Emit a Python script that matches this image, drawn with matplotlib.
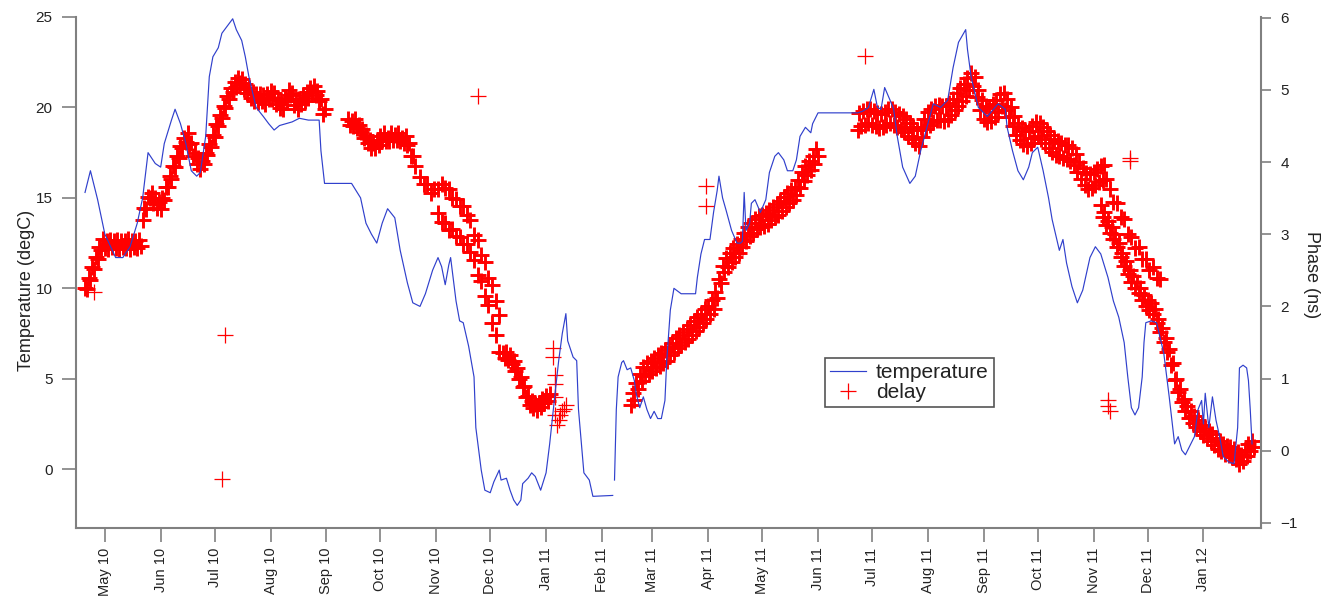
import numpy as np
import pandas as pd
import matplotlib
matplotlib.use("Agg")
import matplotlib.pyplot as plt
import matplotlib.dates as mdates

plt.rcParams['font.family'] = ['Liberation Sans', 'DejaVu Sans']

# ---------------------------------------------------------------- temperature
temp_dates = [
    "2010-04-20", "2010-04-23", "2010-04-27", "2010-05-01", "2010-05-07", "2010-05-11", "2010-05-15", "2010-05-19", "2010-05-22", "2010-05-25", "2010-05-29",
    "2010-06-01", "2010-06-03", "2010-06-07", "2010-06-09", "2010-06-12", "2010-06-15", "2010-06-18", "2010-06-21", "2010-06-23", "2010-06-26", "2010-06-28", "2010-06-30",
    "2010-07-03", "2010-07-05", "2010-07-08", "2010-07-11", "2010-07-13", "2010-07-16", "2010-07-18", "2010-07-20", "2010-07-24", "2010-07-28", "2010-07-31",
    "2010-08-03", "2010-08-06", "2010-08-13", "2010-08-17", "2010-08-22", "2010-08-28", "2010-08-29", "2010-08-31",
    "2010-09-15", "2010-09-20", "2010-09-23", "2010-09-26", "2010-09-29",
    "2010-10-02", "2010-10-05", "2010-10-09", "2010-10-12", "2010-10-16", "2010-10-19", "2010-10-23", "2010-10-26", "2010-10-30",
    "2010-11-02", "2010-11-04", "2010-11-06", "2010-11-08", "2010-11-09", "2010-11-12", "2010-11-14", "2010-11-16", "2010-11-19", "2010-11-22", "2010-11-23", "2010-11-26", "2010-11-28",
    "2010-12-01", "2010-12-03", "2010-12-06", "2010-12-07", "2010-12-10", "2010-12-12", "2010-12-14", "2010-12-16", "2010-12-18", "2010-12-19", "2010-12-22", "2010-12-24", "2010-12-26", "2010-12-29",
    "2011-01-01", "2011-01-03", "2011-01-06", "2011-01-08", "2011-01-10", "2011-01-12", "2011-01-13", "2011-01-16", "2011-01-18", "2011-01-19", "2011-01-22", "2011-01-25", "2011-01-27",
    "2011-02-07", "2011-02-07T12:00", "2011-02-08", "2011-02-09", "2011-02-10", "2011-02-12", "2011-02-13", "2011-02-15", "2011-02-17", "2011-02-19", "2011-02-20", "2011-02-22", "2011-02-24", "2011-02-26", "2011-02-28",
    "2011-03-02", "2011-03-04", "2011-03-06", "2011-03-08", "2011-03-09", "2011-03-11", "2011-03-13", "2011-03-17", "2011-03-25", "2011-03-26", "2011-03-28", "2011-03-30",
    "2011-04-02", "2011-04-04", "2011-04-06", "2011-04-07", "2011-04-09", "2011-04-11", "2011-04-14", "2011-04-17", "2011-04-19", "2011-04-20", "2011-04-21", "2011-04-22", "2011-04-24", "2011-04-25", "2011-04-27", "2011-04-30",
    "2011-05-03", "2011-05-05", "2011-05-08", "2011-05-10", "2011-05-13", "2011-05-15", "2011-05-18", "2011-05-20", "2011-05-22", "2011-05-25", "2011-05-28", "2011-05-29",
    "2011-06-01", "2011-06-23", "2011-06-26", "2011-06-29",
    "2011-07-02", "2011-07-04", "2011-07-06", "2011-07-08", "2011-07-11", "2011-07-13", "2011-07-15", "2011-07-18", "2011-07-22", "2011-07-25", "2011-07-28",
    "2011-08-01", "2011-08-04", "2011-08-08", "2011-08-12", "2011-08-15", "2011-08-18", "2011-08-22", "2011-08-23", "2011-08-25", "2011-08-29",
    "2011-09-03", "2011-09-09", "2011-09-13", "2011-09-14", "2011-09-17", "2011-09-20", "2011-09-23", "2011-09-26", "2011-09-28",
    "2011-10-01", "2011-10-04", "2011-10-07", "2011-10-09", "2011-10-13", "2011-10-15", "2011-10-17", "2011-10-20", "2011-10-23", "2011-10-26", "2011-10-30",
    "2011-11-02", "2011-11-05", "2011-11-09", "2011-11-12", "2011-11-15", "2011-11-18", "2011-11-20", "2011-11-22", "2011-11-24", "2011-11-26", "2011-11-28", "2011-11-29", "2011-11-30",
    "2011-12-03", "2011-12-06", "2011-12-10", "2011-12-13", "2011-12-15", "2011-12-16", "2011-12-18", "2011-12-20", "2011-12-22", "2011-12-25", "2011-12-27", "2011-12-29", "2011-12-31",
    "2012-01-01", "2012-01-02", "2012-01-04", "2012-01-06", "2012-01-08", "2012-01-10", "2012-01-12", "2012-01-15", "2012-01-18", "2012-01-20", "2012-01-21", "2012-01-23", "2012-01-25", "2012-01-26", "2012-01-27", "2012-01-28",
]
temp_values = [
    15.3, 16.5, 14.9, 13.0, 11.7, 11.7, 12.3, 13.6, 15.0, 17.5, 16.9,
    16.7, 18.0, 19.3, 19.9, 19.1, 18.0, 16.5, 16.2, 16.4, 18.4, 21.7, 22.8,
    23.3, 24.1, 24.5, 24.9, 24.3, 23.7, 22.8, 21.7, 20.0, 19.5, 19.1,
    18.75, 19.0, 19.2, 19.4, 19.3, 19.3, 17.6, 15.8,
    15.8, 15.0, 13.6, 13.0, 12.5,
    13.6, 14.4, 13.9, 12.1, 10.3, 9.2, 9.0, 9.7, 11.0,
    11.7, 11.2, 10.2, 11.3, 11.7, 9.3, 8.2, 8.1, 6.8, 5.1, 2.3, -0.05, -1.16,
    -1.3, -0.7, -0.05, -0.6, -0.5, -1.16, -1.7, -2.0, -1.7, -0.8, -0.5, -0.2, -0.4, -1.16,
    -0.2, 1.4, 4.2, 6.0, 7.5, 8.6, 7.1, 6.2, 6.0, 3.3, -0.2, -0.6, -1.5,
    -1.45, np.nan, -0.6, 3.3, 5.1, 5.9, 6.0, 5.5, 5.6, 4.9, 4.2, 3.4, 4.0, 3.3, 2.8,
    3.2, 2.8, 2.8, 3.8, 6.0, 8.8, 10.0, 9.7, 9.7, 10.6, 11.9, 12.7,
    12.7, 14.2, 15.4, 16.2, 15.0, 14.3, 13.2, 12.5, 12.5, 12.6, 15.3, 13.2, 13.6, 14.7, 14.9, 14.2,
    14.9, 16.4, 17.3, 17.5, 17.1, 16.5, 16.5, 17.1, 18.4, 18.9, 18.6, 19.1,
    19.7, 19.7, 19.8, 20.0,
    21.0, 20.0, 19.9, 21.1, 20.4, 19.9, 18.4, 16.7, 15.8, 16.2, 17.6,
    19.1, 20.2, 20.0, 20.4, 22.2, 23.6, 24.3, 23.2, 21.7, 20.0,
    19.5, 20.2, 19.9, 18.9, 17.6, 16.5, 16.0, 16.7, 17.5,
    17.8, 16.5, 15.0, 13.8, 12.1, 12.7, 11.4, 10.1, 9.2, 9.9, 11.7,
    12.3, 11.9, 10.6, 9.3, 8.4, 7.0, 5.1, 3.4, 3.0, 3.4, 5.1, 7.0, 8.1,
    8.2, 8.1, 6.4, 4.0, 2.3, 1.4, 1.8, 1.05, 0.8, 1.4, 1.8, 3.3, 3.8,
    2.5, 4.2, 2.3, 4.0, 2.7, 1.8, 0.7, 0.4, 0.3, 2.3, 5.6, 5.75, 5.6, 4.9, 3.3, 1.4,
]

# ---------------------------------------------------------------- delay (phase)
# Logged runs: each run has a first day and a sampling interval in days.
delay_spring_2010 = [  # daily from 2010-04-20
    2.26, 2.24, 2.40, 2.37, 2.55, 2.52, 2.69, 2.65, 2.82, 2.78, 2.93,
    2.81, 2.91, 2.80, 2.92, 2.82, 2.90, 2.81, 2.92, 2.80, 2.91, 2.82, 2.90, 2.81, 2.93, 2.80, 2.91, 2.82, 2.90, 2.81, 2.92, 2.84,
    3.20, 3.37, 3.35, 3.52, 3.50, 3.57, 3.43, 3.50, 3.37, 3.45,
    3.35, 3.50, 3.47, 3.66, 3.65, 3.81, 3.77, 3.95, 3.93, 4.09,
    4.05, 4.22, 4.19, 4.33, 4.28, 4.40, 4.25, 4.27, 4.09, 4.13,
    3.98, 4.05, 3.91, 4.02, 3.97, 4.13, 4.10, 4.25, 4.21, 4.38,
    4.35, 4.53, 4.50, 4.65, 4.61, 4.78, 4.75, 4.91, 4.87, 5.02,
    4.97, 5.11, 5.04, 5.17, 5.09, 5.15, 5.01, 5.08, 4.95, 5.02,
    4.89, 4.97, 4.85, 4.94, 4.83, 4.94, 4.85, 4.93, 4.81, 4.94, 4.87,
    4.98, 4.88, 4.95, 4.81, 4.88, 4.75, 4.84, 4.73, 4.89, 4.85,
    5.00, 4.93, 4.96, 4.79, 4.85, 4.73, 4.87, 4.81, 4.93, 4.85,
    4.97, 4.89, 5.03, 4.97, 5.06, 4.93, 4.99, 4.85, 4.87, 4.67, 4.73,
]
delay_autumn_2010 = [  # daily from 2010-09-13
    4.60, 4.51, 4.57, 4.50, 4.59, 4.47, 4.52, 4.41, 4.46, 4.34,
    4.38, 4.26, 4.31, 4.20, 4.26, 4.19, 4.29, 4.24,
    4.36, 4.30, 4.40, 4.29, 4.34, 4.29, 4.40, 4.31, 4.37, 4.31,
    4.40, 4.29, 4.34, 4.27, 4.36, 4.24, 4.26, 4.08, 4.09, 3.94,
]
delay_nov_2010_upper = [  # every 2 days from 2010-10-23
    3.79, 3.69, 3.69, 3.57, 3.63,
    3.62, 3.70, 3.64, 3.63, 3.50, 3.49, 3.39, 3.39, 3.27, 3.20, 2.99, 2.92, 2.71, 2.61, 2.39,
    2.30, 2.07, 1.88,
]
delay_nov_2010_lower = [  # every 2 days from 2010-11-02
    3.30, 3.17, 3.16, 3.06, 3.07, 2.97, 2.96, 2.86, 2.86, 2.75, 2.64, 2.44, 2.35, 2.15, 2.02,
    1.77, 1.60, 1.37,
]
delay_winter_2010 = [  # daily from 2010-12-08
    1.36, 1.29, 1.37, 1.26, 1.32, 1.20, 1.24, 1.11, 1.14, 1.00,
    1.02, 0.88, 0.90, 0.75, 0.76, 0.64, 0.69, 0.59, 0.65, 0.57,
    0.66, 0.61, 0.72, 0.66, 0.76, 0.69, 0.78,
]
delay_spring_2011 = [  # daily from 2011-02-17
    0.64, 0.80, 0.71, 0.94, 0.85, 1.07, 0.97, 1.16, 1.03, 1.21, 1.07, 1.25,
    1.10, 1.28, 1.14, 1.32, 1.18, 1.36, 1.21, 1.39, 1.25, 1.44,
    1.32, 1.50, 1.37, 1.56, 1.42, 1.60, 1.46, 1.65, 1.51, 1.69,
    1.55, 1.74, 1.61, 1.80, 1.66, 1.85, 1.72, 1.90, 1.77, 1.96, 1.82,
    2.01, 1.89, 2.09, 1.97, 2.20, 2.11, 2.38, 2.32, 2.56, 2.47,
    2.67, 2.54, 2.74, 2.62, 2.81, 2.68, 2.87, 2.74, 2.94, 2.82,
    3.02, 2.90, 3.10, 2.97, 3.16, 3.02, 3.21, 3.07, 3.25, 3.10,
    3.27, 3.12, 3.29, 3.14, 3.33, 3.20, 3.38, 3.24, 3.42, 3.27,
    3.46, 3.32, 3.51, 3.38, 3.57, 3.43, 3.61, 3.47, 3.66, 3.54,
    3.75, 3.64, 3.86, 3.74, 3.94, 3.82, 4.02, 3.89, 4.08, 3.97, 4.18,
    4.08,
]
delay_summer_2011 = [  # daily from 2011-06-23
    4.45, 4.68, 4.50, 4.71, 4.52, 4.73, 4.54, 4.73,
    4.52, 4.71, 4.50, 4.68, 4.47, 4.67, 4.48, 4.70, 4.52, 4.73,
    4.54, 4.73, 4.52, 4.70, 4.48, 4.67, 4.46, 4.64, 4.42, 4.59,
    4.36, 4.54, 4.32, 4.49, 4.26, 4.44, 4.22, 4.48, 4.35, 4.60, 4.46,
    4.69, 4.52, 4.74, 4.55, 4.77, 4.58, 4.79, 4.58, 4.77, 4.57,
    4.78, 4.59, 4.82, 4.65, 4.88, 4.72, 4.95, 4.78, 5.02, 4.85,
    5.08, 4.92, 5.16, 5.00, 5.23, 5.05, 5.18, 4.90, 5.00, 4.72, 4.86,
    4.60, 4.77, 4.55, 4.75, 4.57, 4.80, 4.63, 4.86, 4.70, 4.94,
    4.78, 4.95, 4.72, 4.87, 4.62, 4.76, 4.50, 4.64, 4.38, 4.54,
    4.30, 4.47, 4.25, 4.43, 4.22, 4.43, 4.26, 4.50, 4.33, 4.55,
    4.36, 4.54, 4.32, 4.49, 4.26, 4.43, 4.20, 4.37, 4.14, 4.32,
    4.10, 4.29, 4.08, 4.26, 4.05, 4.24, 4.04, 4.24, 4.02, 4.19,
    3.96, 4.11, 3.86, 4.00, 3.76, 3.92, 3.68, 3.85, 3.62, 3.83, 3.64,
    3.86, 3.68, 3.90, 3.72, 3.94, 3.75, 3.96, 3.76,
]
delay_nov_2011_upper = [  # every 2 days from 2011-11-10
    3.62, 3.44, 3.43, 3.24, 3.21, 3.01, 2.96, 2.81, 2.83, 2.66, 2.65, 2.51, 2.54, 2.40, 2.38,
]
delay_winter_2011 = [  # daily from 2011-11-05
    3.41, 3.24, 3.31, 3.13, 3.19, 3.02, 3.10, 2.93, 3.00, 2.82,
    2.88, 2.69, 2.74, 2.56, 2.63, 2.45, 2.51, 2.34, 2.42, 2.26,
    2.34, 2.18, 2.26, 2.09, 2.16, 2.00,
    2.09, 1.95, 2.05, 1.89, 1.96, 1.77, 1.82, 1.64, 1.70, 1.51,
    1.56, 1.37, 1.41, 1.19, 1.21, 0.98, 1.00, 0.81, 0.86, 0.67,
    0.72, 0.55, 0.62, 0.46, 0.55, 0.39, 0.48, 0.33, 0.42, 0.27, 0.36,
    0.22, 0.32, 0.18, 0.27, 0.13, 0.23, 0.08, 0.17, 0.03, 0.13,
    -0.01, 0.09, -0.04, 0.07, -0.06, 0.05, -0.08, 0.02, -0.12, -0.02,
    -0.18, -0.06, -0.14, 0.01, -0.07, 0.09, 0.00, 0.14, 0.05,
]
delay_runs = [delay_spring_2010, delay_autumn_2010, delay_nov_2010_upper, delay_nov_2010_lower,
              delay_winter_2010, delay_spring_2011, delay_summer_2011, delay_nov_2011_upper,
              delay_winter_2011]
delay_run_starts = ["2010-04-20", "2010-09-13", "2010-10-23", "2010-11-02",
                    "2010-12-08", "2011-02-17", "2011-06-23", "2011-11-10",
                    "2011-11-05"]
delay_run_steps = [1, 1, 2, 2, 1, 1, 1, 2, 1]

# isolated readings outside the runs
delay_extra_dates = [
    "2010-04-25", "2010-07-05", "2010-07-07", "2010-11-24",
    "2011-01-05", "2011-01-05", "2011-01-06", "2011-01-06", "2011-01-06", "2011-01-06",
    "2011-01-07", "2011-01-08", "2011-01-09", "2011-01-10", "2011-01-11", "2011-01-12",
    "2011-03-31", "2011-03-31", "2011-06-27",
    "2011-11-09", "2011-11-09", "2011-11-10", "2011-11-21", "2011-11-21",
]
delay_extra_values = [
    2.20, -0.39, 1.61, 4.92,
    1.42, 1.30, 1.05, 0.92, 0.75, 0.50,
    0.36, 0.42, 0.50, 0.55, 0.58, 0.64,
    3.67, 3.39, 5.47,
    0.70, 0.62, 0.55, 4.06, 4.02,
]

month_ticks = pd.date_range("2010-05-01", "2012-01-01", freq="MS")

# ---------------------------------------------------------------- assemble
t_x = pd.to_datetime(temp_dates, format="ISO8601")
t_y = np.asarray(temp_values, dtype=float)

run_x, run_y = [], []
for start, step, vals in zip(delay_run_starts, delay_run_steps, delay_runs):
    run_x.extend(pd.date_range(start, periods=len(vals), freq=f"{step}D"))
    run_y.extend(vals)
extra_x = pd.to_datetime(delay_extra_dates)

# ---------------------------------------------------------------- figure
GREY = "#808080"
TEXT = "#222222"
RED = "#ff0000"

fig = plt.figure(figsize=(13.22, 5.96), dpi=100)
ax = fig.add_axes([0.0575, 0.1141, 0.8964, 0.8574])
ax2 = ax.twinx()
ax.set_zorder(ax2.get_zorder() + 1)
ax.patch.set_visible(False)

ax2.plot(run_x, run_y, linestyle="none", marker="+", markersize=12,
         markeredgewidth=2.1, color=RED)
pts, = ax2.plot(extra_x, delay_extra_values, linestyle="none", marker="+",
                markersize=11, markeredgewidth=0.9, color=RED)
line, = ax.plot(t_x, t_y, color="#3040cc", linewidth=0.85)

ax.set_xlim(pd.Timestamp("2010-04-15"), pd.Timestamp("2012-02-02"))
ax.set_ylim(-3.25, 25.0)
ax2.set_ylim(-1.07, 6.01)
ax.set_yticks([0, 5, 10, 15, 20, 25])
ax2.set_yticks([-1, 0, 1, 2, 3, 4, 5, 6])

ax.set_xticks(month_ticks)
ax.xaxis.set_major_formatter(mdates.DateFormatter("%b %y"))
for lab in ax.get_xticklabels():
    lab.set_rotation(90)

for s in ("top", "right"):
    ax.spines[s].set_visible(False)
for s in ("top", "left", "bottom"):
    ax2.spines[s].set_visible(False)
for sp in (ax.spines["left"], ax.spines["bottom"], ax2.spines["right"]):
    sp.set_color(GREY)
    sp.set_linewidth(1.5)

ax.tick_params(axis="y", direction="out", length=10, width=1.2, color=GREY,
               labelsize=11, labelcolor=TEXT, pad=7)
ax.tick_params(axis="x", direction="out", length=10, width=1.2, color=GREY,
               labelsize=10.5, labelcolor=TEXT, pad=4)
ax2.tick_params(axis="y", direction="out", length=7, width=1.2, color=GREY,
                labelsize=11, labelcolor=TEXT, pad=7)

ax.set_ylabel("Temperature (degC)", fontsize=13, color=TEXT)
ax.yaxis.set_label_coords(-0.035, 0.464)
ax2.set_ylabel("Phase (ns)", fontsize=13, color=TEXT, rotation=270, va="bottom")
ax2.yaxis.set_label_coords(1.035, 0.495)

leg = ax.legend([line, pts], ["temperature", "delay"], loc="upper left",
                bbox_to_anchor=(0.632, 0.333), frameon=True, fancybox=False,
                edgecolor="#555555", framealpha=1, fontsize=15,
                handlelength=1.7, handletextpad=0.5, borderpad=0.25,
                labelspacing=0.05, borderaxespad=0)
leg.get_frame().set_linewidth(1.2)
for t in leg.get_texts():
    t.set_color(TEXT)

fig.savefig("out.png", dpi=100)
